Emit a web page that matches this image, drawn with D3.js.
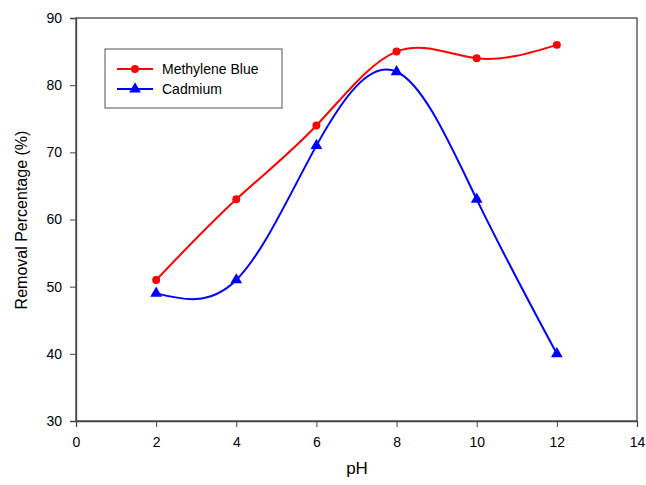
<!DOCTYPE html>
<html>
<head>
<meta charset="utf-8">
<script src="https://cdn.jsdelivr.net/npm/d3@7"></script>
<style>
  body { margin: 0; background: #fff; }
  svg text { font-family: "Liberation Sans", Arial, sans-serif; fill: #000; }
</style>
</head>
<body>
<svg id="chart" width="646" height="485"></svg>
<script>
"use strict";
var phValues = [2, 4, 6, 8, 10, 12];
var methyleneBlue = [51, 63, 74, 85, 84, 86];
var cadmium = [49, 51, 71, 82, 63, 40];
var xTicks = [0, 2, 4, 6, 8, 10, 12, 14];
var yTicks = [30, 40, 50, 60, 70, 80, 90];
var seriesNames = ["Methylene Blue", "Cadmium"];

var svg = d3.select("#chart");
var margin = { left: 76, top: 18, right: 9, bottom: 64 };
var width = 646 - margin.left - margin.right;
var height = 485 - margin.top - margin.bottom;

var x = d3.scaleLinear().domain([0, 14]).range([0, width]);
var y = d3.scaleLinear().domain([30, 90]).range([height, 0]);

var g = svg.append("g").attr("transform", "translate(" + margin.left + "," + margin.top + ")");

//  Frame  ---
g.append("rect")
    .attr("width", width).attr("height", height)
    .attr("fill", "none").attr("stroke", "#444").attr("stroke-width", 1.3);

var xAxis = g.append("g").attr("transform", "translate(0," + height + ")")
    .call(d3.axisBottom(x).tickValues(xTicks).tickSize(6).tickPadding(10));
var yAxis = g.append("g")
    .call(d3.axisLeft(y).tickValues(yTicks).tickSize(6).tickPadding(8));
[xAxis, yAxis].forEach(function (a) {
    a.select(".domain").attr("stroke", "#444").attr("stroke-width", 1.3);
    a.selectAll(".tick line").attr("stroke", "#444");
    a.selectAll("text").style("font-size", "14px").style("font-family", "Liberation Sans, Arial, sans-serif");
});

svg.append("text")
    .attr("x", 357).attr("y", 474)
    .attr("text-anchor", "middle").style("font-size", "17px").text("pH");
svg.append("text")
    .attr("transform", "translate(27,220) rotate(-90)")
    .attr("text-anchor", "middle").style("font-size", "16px").text("Removal Percentage (%)");

//  Series  ---
var line = d3.line()
    .x(function (d) { return x(d[0]); })
    .y(function (d) { return y(d[1]); })
    .curve(d3.curveNatural);

var series = [
    { name: seriesNames[0], color: "#ff0000", values: methyleneBlue, marker: "circle" },
    { name: seriesNames[1], color: "#0000ff", values: cadmium, marker: "triangle" }
];
var circleSym = d3.symbol().type(d3.symbolCircle).size(50);
var triSym = d3.symbol().type(d3.symbolTriangle).size(60);

series.forEach(function (s) {
    var pts = phValues.map(function (p, i) { return [p, s.values[i]]; });
    g.append("path").datum(pts)
        .attr("d", line)
        .attr("fill", "none").attr("stroke", s.color).attr("stroke-width", 2);
    g.selectAll(".m-" + s.marker).data(pts).enter().append("path")
        .attr("class", "m-" + s.marker)
        .attr("d", s.marker === "circle" ? circleSym : triSym)
        .attr("transform", function (d) { return "translate(" + x(d[0]) + "," + y(d[1]) + ")"; })
        .attr("fill", s.color);
});

//  Legend  ---
var legend = svg.append("g").attr("transform", "translate(105,49)");
legend.append("rect").attr("width", 177).attr("height", 59)
    .attr("fill", "#fff").attr("stroke", "#555").attr("stroke-width", 1);
series.forEach(function (s, i) {
    var ly = 20 + i * 20;
    legend.append("line").attr("x1", 12).attr("x2", 48).attr("y1", ly).attr("y2", ly)
        .attr("stroke", s.color).attr("stroke-width", 2);
    legend.append("path")
        .attr("d", s.marker === "circle" ? circleSym : triSym)
        .attr("transform", "translate(30," + ly + ")")
        .attr("fill", s.color);
    legend.append("text").attr("x", 57).attr("y", ly + 5)
        .style("font-size", "14px").text(s.name);
});
</script>
</body>
</html>
